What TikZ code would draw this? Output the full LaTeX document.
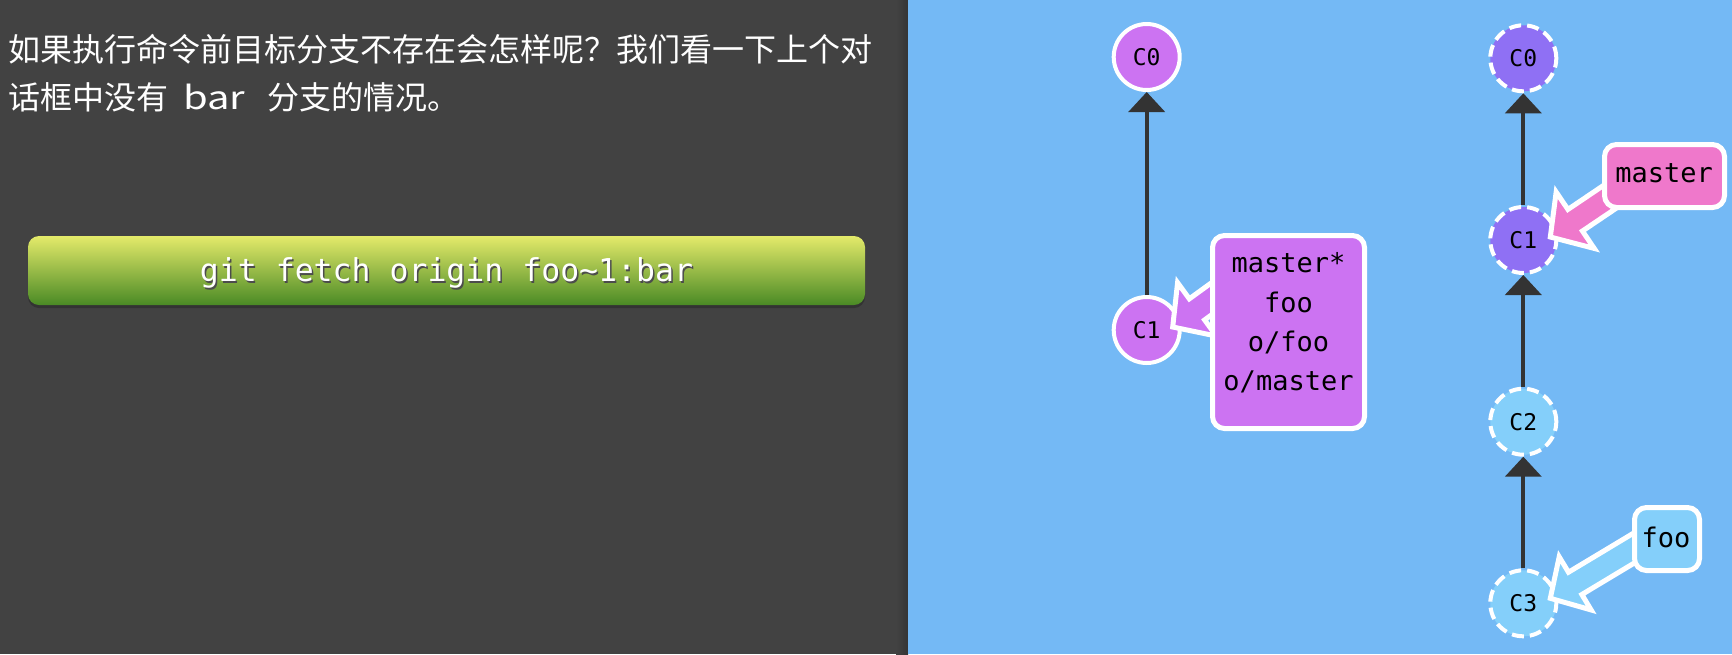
\documentclass[tikz,border=0pt]{standalone}
\usepackage{fontspec}
\newfontfamily\cjk{Noto Sans CJK SC}
\newfontfamily\mono{DejaVu Sans Mono}
\usetikzlibrary{arrows.meta}
\definecolor{darkbg}{HTML}{424242}
\definecolor{darkedge}{HTML}{353535}
\definecolor{bluebg}{HTML}{74B9F5}
\definecolor{lpurple}{HTML}{CC73F2}
\definecolor{violetc}{HTML}{8F70F4}
\definecolor{skyc}{HTML}{84CFFA}
\definecolor{pinkc}{HTML}{EF78CB}
\definecolor{edgec}{HTML}{333333}
\definecolor{btop}{HTML}{E4EA6A}
\definecolor{bbot}{HTML}{4A8A25}
\newcommand\blockarr[7]{%
  \begin{scope}[shift={(#1)}]
    \draw[blockarrow, fill=#7, shift={(#2,#3)}, rotate=#4]
      (0,0) -- (#5,-#6) -- (#5,-13) -- (110,-13) -- (110,13) -- (#5,13) -- (#5,#6) -- cycle;
  \end{scope}}
\begin{document}
\begin{tikzpicture}[x=1pt,y=-1pt,
  commit/.style={circle, minimum size=66pt, inner sep=0pt, line width=4pt, draw=white,
    font=\mono\fontsize{23}{23}\selectfont, text=black},
  ghost/.style={commit, dash pattern=on 12pt off 6pt},
  parent/.style={draw=edgec, line width=4pt, -{Triangle[width=36pt,length=20pt]}},
  branchbox/.style={draw=white, line width=5pt, rounded corners=12pt, inner sep=0pt},
  branchtext/.style={font=\mono\fontsize{27}{27}\selectfont, text=black, inner sep=0pt, anchor=base},
  blockarrow/.style={draw=white, line width=5pt, line join=miter},
  prose/.style={font=\cjk\fontsize{32}{32}\selectfont, text=white, inner sep=0pt, anchor=base west}
]
\useasboundingbox (0,0) rectangle (1732,654);
% panels
\fill[darkbg] (0,0) rectangle (908,654);
\shade[left color=darkbg, right color=darkedge] (896,0) rectangle (908,654);
\fill[bluebg] (908,0) rectangle (1732,654);

% prose
\node[prose] (line1) at (8,61) {如果执行命令前目标分支不存在会怎样呢？我们看一下上个对};
\node[prose] (line2) at (8,109) {话框中没有\hspace{15pt}\scalebox{1.25}[1]{bar}\hspace{22pt}分支的情况。};

% button
\fill[black!80, rounded corners=11pt] (28,238) rectangle (865,308);
\shade[top color=btop, bottom color=bbot, rounded corners=11pt] (28,236) rectangle (865,305);
\node[font=\mono\fontsize{31.5}{31.5}\selectfont, text=black!70, inner sep=0pt, anchor=base] (cmdshadow) at (448,283) {git fetch origin foo\textasciitilde1:bar};
\node[font=\mono\fontsize{31.5}{31.5}\selectfont, text=white, inner sep=0pt, anchor=base] (cmd) at (446.5,281) {git fetch origin foo\textasciitilde1:bar};

% left tree
\node[commit, fill=lpurple] (lC0) at (1146.7,57) {C0};
\node[commit, fill=lpurple] (lC1) at (1146.7,330) {C1};
\draw[parent] (lC1) -- (lC0);
\blockarr{lC1}{26}{-3}{36}{30}{33}{lpurple}
\node[branchbox, fill=lpurple, minimum width=152pt, minimum height=193pt] (lbox) at (1288.5,332) {};
\node[branchtext] (lt1) at (1288.5,272) {master*};
\node[branchtext] (lt2) at (1288.5,312) {foo};
\node[branchtext] (lt3) at (1288.5,351) {o/foo};
\node[branchtext] (lt4) at (1288.5,390) {o/master};

% right tree
\node[ghost, fill=violetc] (rC0) at (1523.3,58.3) {C0};
\node[ghost, fill=violetc] (rC1) at (1523.3,240) {C1};
\node[ghost, fill=skyc] (rC2) at (1523.3,421.7) {C2};
\node[ghost, fill=skyc] (rC3) at (1523.3,603.3) {C3};
\draw[parent] (rC1) -- (rC0);
\draw[parent] (rC2) -- (rC1);
\draw[parent] (rC3) -- (rC2);
\blockarr{rC1}{27}{-3}{34}{30}{34}{pinkc}
\node[branchbox, fill=pinkc, minimum width=120pt, minimum height=63pt] (mbox) at (1664.5,176) {};
\node[branchtext] (mtext) at (1664,182) {master};
\blockarr{rC3}{27}{-5}{31}{29}{31}{skyc}
\node[branchbox, fill=skyc, minimum width=65pt, minimum height=63pt] (fbox) at (1667,539) {};
\node[branchtext] (ftext) at (1666,547) {foo};
\end{tikzpicture}
\end{document}
